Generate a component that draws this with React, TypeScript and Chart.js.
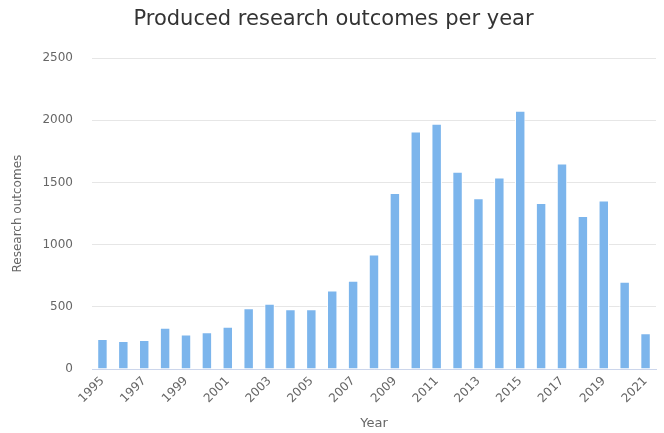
import React, { useEffect, useRef } from "react";
import { Chart, registerables } from "chart.js";

Chart.register(...registerables);

const years: string[] = [
  "1995","1996","1997","1998","1999","2000","2001","2002","2003","2004",
  "2005","2006","2007","2008","2009","2010","2011","2012","2013","2014",
  "2015","2016","2017","2018","2019","2020","2021",
];
const outcomes: number[] = [
  242, 226, 234, 331, 277, 295, 339, 489, 524, 481,
  481, 631, 710, 922, 1416, 1911, 1973, 1586, 1373, 1540,
  2078, 1336, 1653, 1231, 1355, 702, 287,
];
const yTicks: number[] = [0, 500, 1000, 1500, 2000, 2500];

const FONT = "'DejaVu Sans', 'Liberation Sans', sans-serif";

export default function App() {
  const ref = useRef<HTMLCanvasElement | null>(null);
  useEffect(() => {
    document.body.style.margin = "0";
    const ctx = ref.current!.getContext("2d")!;
    const chart = new Chart(ctx, {
      type: "bar",
      data: {
        labels: years,
        datasets: [
          {
            label: "Research outcomes",
            data: outcomes,
            backgroundColor: "#7cb5ec",
            borderColor: "#ffffff",
            borderWidth: 1,
            barPercentage: 0.5,
            categoryPercentage: 1,
          },
        ],
      },
      options: {
        animation: false,
        responsive: false,
        maintainAspectRatio: false,
        layout: { padding: { left: 11, right: 8, top: 0, bottom: 2 } },
        plugins: {
          legend: { display: false },
          tooltip: { enabled: false },
          title: {
            display: true,
            text: "Produced research outcomes per year",
            color: "#333333",
            font: { family: FONT, size: 21, weight: "normal" },
            padding: { top: 7, bottom: 26 },
          },
        },
        scales: {
          x: {
            grid: { display: false, drawTicks: false },
            border: { display: true, color: "#ccd6eb", width: 1 },
            afterFit: (axis: any) => {
              axis.height = 62;
            },
            ticks: {
              autoSkip: false,
              maxRotation: 45,
              minRotation: 45,
              color: "#666666",
              font: { family: FONT, size: 12 },
              padding: 5,
              callback: (_v: any, i: number) => (i % 2 === 0 ? years[i] : ""),
            },
            title: {
              display: true,
              text: "Year",
              color: "#666666",
              font: { family: FONT, size: 13 },
              padding: { top: 0, bottom: 0 },
            },
          },
          y: {
            min: 0,
            max: 2500,
            afterBuildTicks: (axis: any) => {
              axis.ticks = yTicks.map((v) => ({ value: v }));
            },
            afterFit: (axis: any) => {
              axis.width = 81;
            },
            grid: { color: "#e6e6e6", drawTicks: false },
            border: { display: false },
            ticks: {
              color: "#666666",
              font: { family: FONT, size: 12 },
              padding: 19,
              callback: (v: any) => String(v),
            },
            title: {
              display: true,
              text: "Research outcomes",
              color: "#666666",
              font: { family: FONT, size: 12 },
              padding: { top: 0, bottom: 0 },
            },
          },
        },
      },
    });
    return () => chart.destroy();
  }, []);
  return (
    <div style={{ position: "fixed", left: 0, top: 0, width: 664, height: 433, background: "#fff" }}>
      <canvas ref={ref} width={664} height={433} style={{ width: 664, height: 433 }} />
    </div>
  );
}
